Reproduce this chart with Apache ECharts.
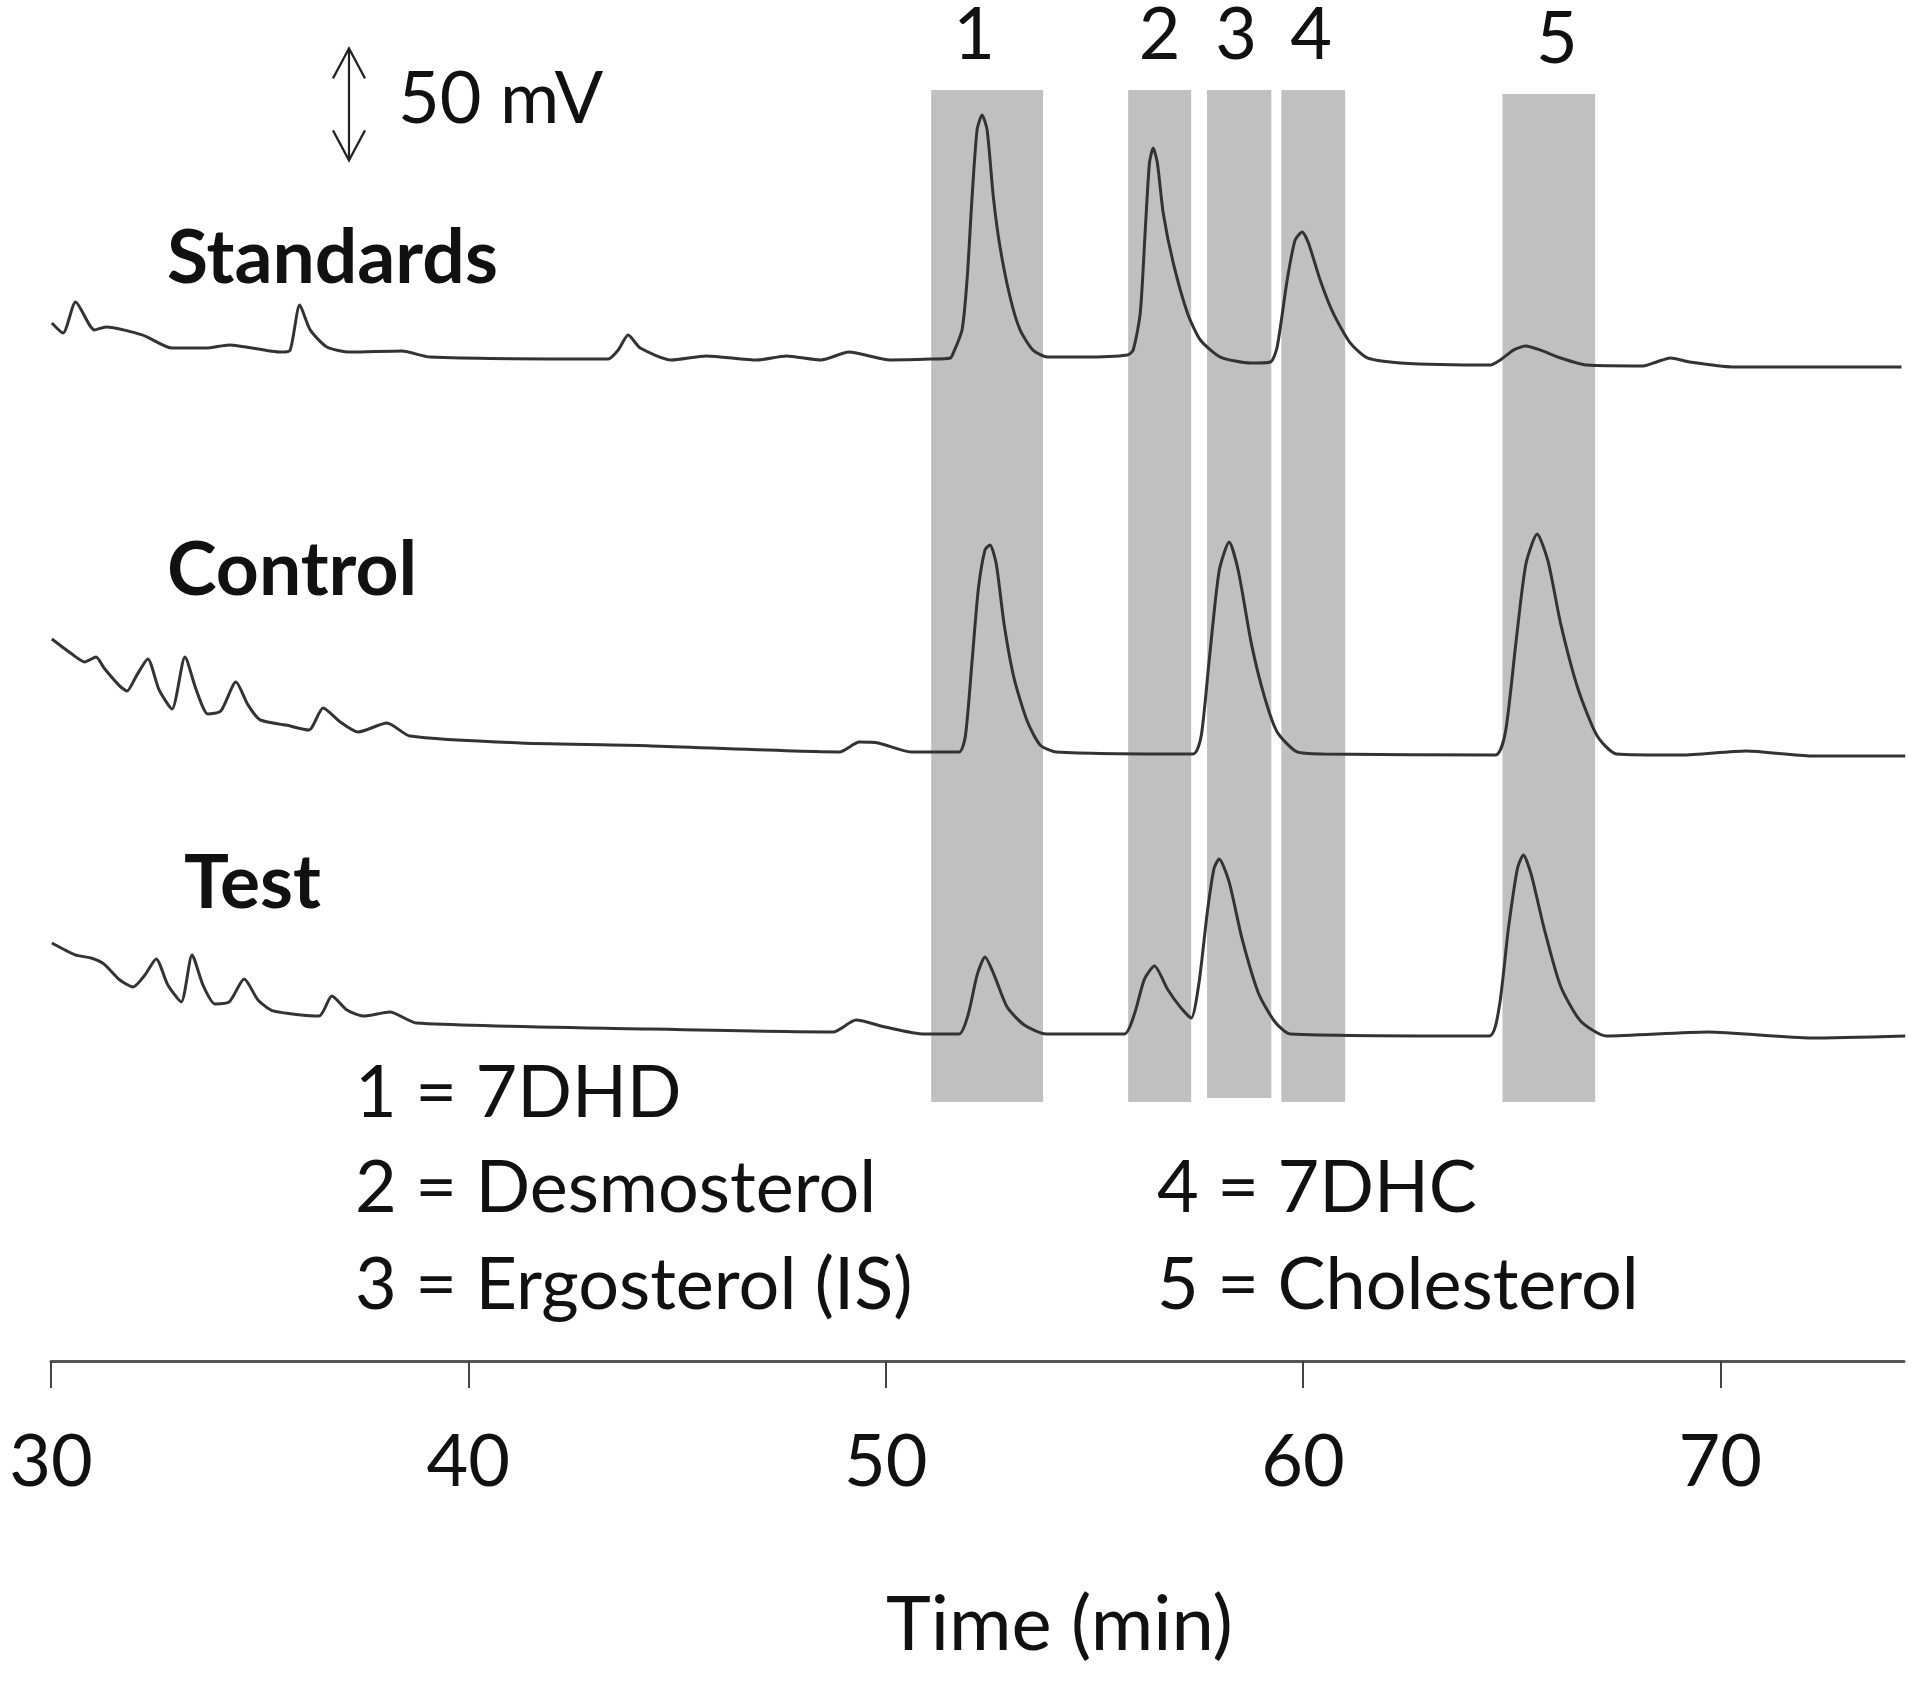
<!DOCTYPE html>
<html>
<head>
<meta charset="utf-8">
<script src="https://cdn.jsdelivr.net/npm/echarts@6/dist/echarts.min.js"></script>
<style>html,body{margin:0;padding:0;background:#fff}#c{width:1920px;height:1681px}</style>
</head>
<body>
<div id="c"></div>
<script>
// x ticks (min)
const xTicks = [30, 40, 50, 60, 70];
// Stacked chromatogram traces: [time (min), signal (mV, stacked)]
const standardsTrace = [[30.02,463.4],[30.29,458.9],[30.59,472.8],[31.04,460.3],[31.32,461.6],[32.20,458.0],[32.90,452.2],[33.71,452.2],[34.27,453.6],[35.51,450.4],[35.73,451.3],[35.96,471.4],[36.21,460.3],[36.61,452.7],[37.17,450.4],[38.41,450.9],[39.08,448.2],[43.35,447.3],[43.59,451.3],[43.83,458.0],[44.12,452.2],[44.86,446.9],[45.70,448.7],[46.92,446.9],[47.62,448.7],[48.45,446.9],[49.12,450.4],[50.11,446.9],[51.07,447.3],[51.55,447.8],[51.62,450.0],[51.83,460.3],[51.95,482.6],[52.07,519.6],[52.19,549.6],[52.31,556.3],[52.43,549.6],[52.58,519.6],[52.74,497.3],[52.98,475.0],[53.22,460.3],[53.53,451.3],[53.87,448.2],[54.73,448.2],[55.79,449.1],[55.93,451.3],[56.10,467.9],[56.22,504.9],[56.32,534.8],[56.41,541.5],[56.51,534.8],[56.65,512.5],[56.89,490.2],[57.23,467.9],[57.54,455.8],[58.02,448.2],[58.74,445.5],[59.22,446.0],[59.38,452.7],[59.62,482.6],[59.81,500.4],[59.98,504.0],[60.13,499.1],[60.41,482.6],[60.72,467.9],[61.13,454.5],[61.54,447.8],[62.33,445.5],[64.49,444.6],[64.73,446.9],[65.04,451.3],[65.33,453.1],[65.69,451.3],[66.17,447.8],[66.81,444.6],[68.15,444.2],[68.47,446.0],[68.80,447.8],[69.26,446.0],[70.29,443.8],[74.34,443.8]];
const controlTrace = [[30.02,322.3],[30.50,315.6],[30.81,312.1],[31.08,314.3],[31.27,309.4],[31.65,301.3],[31.82,299.1],[32.06,306.3],[32.32,313.4],[32.59,299.6],[32.90,291.1],[33.21,314.3],[33.48,299.6],[33.76,288.8],[34.07,290.2],[34.43,303.1],[34.72,292.9],[35.01,286.2],[35.63,283.9],[36.18,281.7],[36.52,291.5],[36.93,285.3],[37.36,280.8],[38.05,284.8],[38.60,279.0],[41.24,275.9],[44.38,274.6],[48.89,271.9],[49.37,276.3],[49.82,275.9],[50.61,271.9],[51.76,271.9],[51.91,279.0],[52.07,312.5],[52.22,344.6],[52.38,362.1],[52.50,364.3],[52.65,355.8],[52.84,328.6],[53.08,304.5],[53.39,285.7],[53.70,275.0],[54.09,271.9],[57.37,271.0],[57.56,279.0],[57.75,312.5],[57.99,352.7],[58.23,365.6],[58.45,352.7],[58.76,320.5],[59.07,296.9],[59.38,280.8],[59.86,271.9],[60.49,271.0],[64.61,270.5],[64.85,280.8],[65.10,320.5],[65.34,355.8],[65.61,369.2],[65.87,357.1],[66.18,328.6],[66.59,300.0],[67.05,279.0],[67.51,271.0],[69.07,270.5],[70.62,272.3],[72.18,270.1],[74.43,270.1]];
const testTrace = [[30.02,186.6],[30.58,181.3],[30.96,179.9],[31.27,177.2],[31.65,170.1],[31.97,167.0],[32.25,172.3],[32.52,179.5],[32.80,167.9],[33.12,160.3],[33.38,181.3],[33.64,167.9],[33.93,159.4],[34.27,160.3],[34.63,170.5],[34.96,161.2],[35.32,156.3],[36.42,154.0],[36.73,162.9],[37.09,156.7],[37.50,154.0],[38.12,155.8],[38.75,150.9],[44.38,148.2],[48.74,146.9],[49.29,152.2],[49.99,149.1],[50.92,146.0],[51.76,146.0],[51.98,154.9],[52.19,172.3],[52.38,180.4],[52.60,172.3],[52.91,158.0],[53.32,150.0],[53.85,146.0],[55.72,146.0],[55.96,154.9],[56.20,170.5],[56.44,176.3],[56.75,166.1],[57.06,158.0],[57.32,153.1],[57.51,169.2],[57.71,200.9],[57.87,220.1],[57.99,224.1],[58.23,213.8],[58.54,188.4],[58.93,164.3],[59.31,151.8],[59.69,146.0],[64.46,145.1],[64.70,158.0],[64.92,192.9],[65.14,220.1],[65.28,225.9],[65.47,217.0],[65.78,192.9],[66.17,167.4],[66.65,151.8],[67.27,145.1],[69.69,146.9],[72.18,144.2],[74.43,145.1]];
// Peak windows (min) and labels
const bandLabels = ['1', '2', '3', '4', '5'];
const bandStart = [51.09, 55.81, 57.70, 59.48, 64.78];
const bandEnd = [53.77, 57.32, 59.24, 61.01, 67.00];
const bandTop = [567.4, 567.4, 567.4, 567.4, 565.6];
const bandBottom = [115.6, 115.6, 117.4, 115.6, 115.6];
const bandLabelShift = [-13, 0, -3, -2, 8];
// Scale bar
const scaleBarTime = 37.14, scaleBarFrom = 536, scaleBarSpan = 50;
const scaleBarText = '50 mV';
const traceNames = ['Standards', 'Control', 'Test'];
const legendLines = ['1 = 7DHD', '2 = Desmosterol', '3 = Ergosterol (IS)', '4 = 7DHC', '5 = Cholesterol'];

const FONT = 'Lato, "Open Sans", sans-serif';
const chart = echarts.init(document.getElementById('c'), null, {renderer: 'canvas'});

const lineSeries = (name, data) => ({
  name, type: 'line', data, z: 3, showSymbol: false, smooth: 0.22,
  lineStyle: {color: '#333', width: 3}, silent: true
});

function txt(id, text, x, y, weight, size) {
  return {type: 'text', id, x, y, silent: true,
    style: {text, fontSize: size || 72, fontFamily: FONT, fontWeight: weight || 'normal', fill: '#111', verticalAlign: 'middle', align: 'left'}};
}

const option = {
  animation: false,
  backgroundColor: '#fff',
  grid: {left: 51, right: 16, top: 17, bottom: 320},
  xAxis: {
    type: 'value', min: 30, max: 74.4, interval: 10,
    axisLine: {lineStyle: {color: '#555', width: 3}},
    axisTick: {show: true, inside: false, length: 27, customValues: xTicks, lineStyle: {color: '#444', width: 2}},
    axisLabel: {customValues: xTicks, margin: 66, fontSize: 72, fontFamily: FONT, color: '#111'},
    splitLine: {show: false},
    name: 'Time (min)', nameLocation: 'middle', nameGap: 226,
    nameTextStyle: {fontSize: 76, fontFamily: FONT, color: '#111', padding: [0, 0, 0, 164]}
  },
  yAxis: {type: 'value', min: 0, max: 600, show: false},
  series: [
    {
      type: 'line', data: [], z: 1, silent: true,
      markArea: {
        silent: true, z: 1,
        itemStyle: {color: '#c0c0c0', opacity: 1},
        label: {show: true, position: 'top', distance: 18, fontSize: 72, fontFamily: FONT, color: '#111'},
        data: bandLabels.map((l, i) => [
          {name: l, xAxis: bandStart[i], yAxis: bandBottom[i], label: {offset: [bandLabelShift[i], 0]}},
          {xAxis: bandEnd[i], yAxis: bandTop[i]}
        ])
      }
    },
    lineSeries(traceNames[0], standardsTrace),
    lineSeries(traceNames[1], controlTrace),
    lineSeries(traceNames[2], testTrace)
  ],
  graphic: {elements: [
    txt('g50', scaleBarText, 398, 100),
    txt('gS', traceNames[0], 167, 259, 'bold', 75),
    txt('gC', traceNames[1], 167, 571, 'bold', 75),
    txt('gT', traceNames[2], 184, 884, 'bold', 75),
    txt('l1', legendLines[0], 355, 1094),
    txt('l2', legendLines[1], 355, 1189),
    txt('l3', legendLines[2], 355, 1286),
    txt('l4', legendLines[3], 1157, 1189),
    txt('l5', legendLines[4], 1157, 1286)
  ]}
};
chart.setOption(option);

// Scale bar arrow placed through the axes' scales
const pTop = chart.convertToPixel({gridIndex: 0}, [scaleBarTime, scaleBarFrom + scaleBarSpan]);
const pBot = chart.convertToPixel({gridIndex: 0}, [scaleBarTime, scaleBarFrom]);
const ax = pTop[0], hw = 16, hh = 30;
const arrowStyle = {stroke: '#222', lineWidth: 2.2, fill: null};
chart.setOption({graphic: {elements: [
  {type: 'line', id: 'arShaft', silent: true, shape: {x1: ax, y1: pTop[1], x2: ax, y2: pBot[1]}, style: arrowStyle},
  {type: 'polyline', id: 'arTop', silent: true, shape: {points: [[ax - hw, pTop[1] + hh], [ax, pTop[1]], [ax + hw, pTop[1] + hh]]}, style: arrowStyle},
  {type: 'polyline', id: 'arBot', silent: true, shape: {points: [[ax - hw, pBot[1] - hh], [ax, pBot[1]], [ax + hw, pBot[1] - hh]]}, style: arrowStyle}
]}});
</script>
</body>
</html>
